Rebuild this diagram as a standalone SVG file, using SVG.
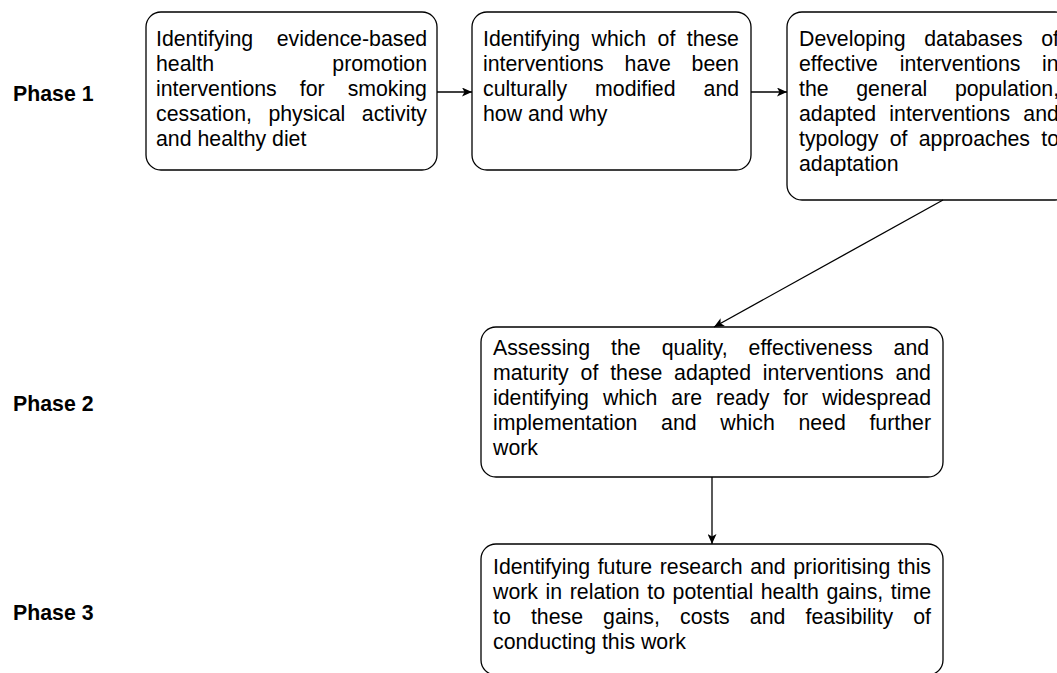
<svg xmlns="http://www.w3.org/2000/svg" width="1057" height="673" viewBox="0 0 1057 673">
<style>
.box{fill:#fff;stroke:#000;stroke-width:1.3}
.t{font-family:"Liberation Sans",Arial,Helvetica,sans-serif;font-size:21.3px;fill:#000}
.p{font-family:"Liberation Sans",Arial,Helvetica,sans-serif;font-size:21.3px;font-weight:bold;fill:#000}
.edge{fill:none;stroke:#000;stroke-width:1.3}
</style>
<defs>
<marker id="arr" markerUnits="userSpaceOnUse" markerWidth="11" markerHeight="9" refX="10" refY="4.5" orient="auto">
<path d="M0,0 L10,4.5 L0,9 L2.5,4.5 Z" fill="#000"/>
</marker>
</defs>
<rect width="1057" height="673" fill="#fff"/>

<g id="phase1"><text class="p" x="13" y="101">Phase 1</text></g>
<g id="phase2"><text class="p" x="13" y="411">Phase 2</text></g>
<g id="phase3"><text class="p" x="13" y="620">Phase 3</text></g>

<g id="box1">
<rect class="box" x="146" y="12" width="291" height="158" rx="15"/>
<text class="t" x="156" y="46" word-spacing="17.7">Identifying evidence-based</text>
<text class="t" x="156" y="71" word-spacing="112.4">health promotion</text>
<text class="t" x="156" y="96" word-spacing="17.1">interventions for smoking</text>
<text class="t" x="156" y="121" word-spacing="10.6">cessation, physical activity</text>
<text class="t" x="156" y="146">and healthy diet</text>
</g>

<g id="box2">
<rect class="box" x="472" y="12" width="279" height="158" rx="15"/>
<text class="t" x="483" y="46" word-spacing="5.6">Identifying which of these</text>
<text class="t" x="483" y="71" word-spacing="14.9">interventions have been</text>
<text class="t" x="483" y="96" word-spacing="22.1">culturally modified and</text>
<text class="t" x="483" y="121">how and why</text>
</g>

<g id="box3">
<rect class="box" x="787" y="12" width="283" height="188" rx="15"/>
<text class="t" x="799" y="46" word-spacing="12.8">Developing databases of</text>
<text class="t" x="799" y="71" word-spacing="15.8">effective interventions in</text>
<text class="t" x="799" y="96" word-spacing="21.7">the general population,</text>
<text class="t" x="799" y="121" word-spacing="7.4">adapted interventions and</text>
<text class="t" x="799" y="146" word-spacing="5.4">typology of approaches to</text>
<text class="t" x="799" y="171">adaptation</text>
</g>

<g id="box4">
<rect class="box" x="481" y="327" width="462" height="150" rx="15"/>
<text class="t" x="493" y="355" word-spacing="15.1">Assessing the quality, effectiveness and</text>
<text class="t" x="493" y="380" word-spacing="5.9">maturity of these adapted interventions and</text>
<text class="t" x="493" y="405" word-spacing="8.06">identifying which are ready for widespread</text>
<text class="t" x="493" y="430" word-spacing="17.75">implementation and which need further</text>
<text class="t" x="493" y="455">work</text>
</g>

<g id="box5">
<rect class="box" x="481" y="544" width="462" height="131" rx="15"/>
<text class="t" x="493" y="574" word-spacing="1.66">Identifying future research and prioritising this</text>
<text class="t" x="493" y="599" word-spacing="1.7">work in relation to potential health gains, time</text>
<text class="t" x="493" y="624" word-spacing="14.2">to these gains, costs and feasibility of</text>
<text class="t" x="493" y="649">conducting this work</text>
</g>

<g id="connectors">
<line class="edge" x1="437" y1="92" x2="472" y2="92" marker-end="url(#arr)"/>
<line class="edge" x1="751" y1="92" x2="787" y2="92" marker-end="url(#arr)"/>
<line class="edge" x1="943" y1="200" x2="714" y2="327" marker-end="url(#arr)"/>
<line class="edge" x1="712" y1="477" x2="712" y2="544" marker-end="url(#arr)"/>
</g>
</svg>
